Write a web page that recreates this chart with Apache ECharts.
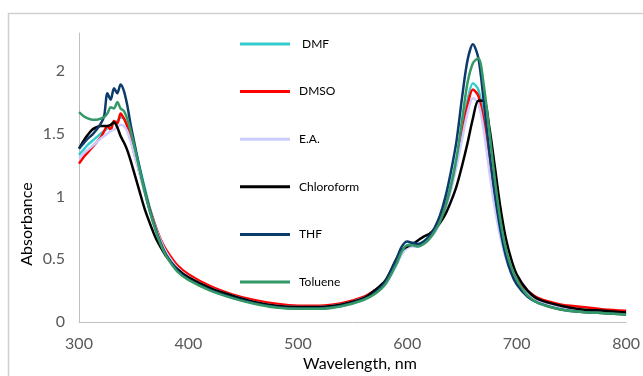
<!DOCTYPE html>
<html>
<head>
<meta charset="utf-8">
<script src="https://cdn.jsdelivr.net/npm/echarts@6/dist/echarts.min.js"></script>
<style>
html,body{margin:0;padding:0;background:#fff;}
#c{width:643px;height:376px;}
</style>
</head>
<body>
<div id="c"></div>
<script>
const wavelengths = [300,304,308,312,316,320,323,326,329,332,335,338,341,344,347,350,355,360,365,370,375,380,390,400,420,440,460,480,500,520,540,560,570,580,590,595,600,605,610,615,620,625,630,635,640,645,650,655,660,665,670,675,680,685,690,695,700,710,720,740,760,780,800];

const seriesNames = ['DMF','DMSO','E.A.','Chloroform','THF','Toluene'];
const legendLabels = [' DMF','DMSO','E.A.','Chloroform','THF','Toluene'];
const seriesColors = ['#33CCCC','#FF0000','#CCCCFF','#000000','#0B3A6B','#339966'];

const dmf = [1.33,1.37,1.41,1.44,1.47,1.50,1.52,1.54,1.56,1.58,1.60,1.63,1.62,1.57,1.51,1.42,
  1.25,1.07,0.90,0.76,0.64,0.55,0.43,0.36,0.27,0.21,0.16,0.13,0.12,0.12,0.14,0.19,0.24,0.31,0.47,
  0.56,0.61,0.62,0.62,0.64,0.68,0.74,0.82,0.94,1.10,1.30,1.52,1.76,1.90,1.85,1.62,1.27,0.96,0.72,0.53,0.41,0.33,
  0.23,0.17,0.12,0.10,0.08,0.07];
const dmso = [1.26,1.31,1.35,1.39,1.43,1.47,1.52,1.56,1.53,1.60,1.58,1.66,1.62,1.56,1.47,1.36,
  1.20,1.04,0.89,0.76,0.65,0.57,0.45,0.38,0.285,0.22,0.175,0.145,0.13,0.13,0.15,0.20,0.25,0.31,0.46,
  0.55,0.60,0.61,0.61,0.63,0.67,0.72,0.80,0.92,1.07,1.27,1.49,1.72,1.85,1.80,1.58,1.25,0.95,0.72,0.54,0.42,0.34,
  0.25,0.19,0.14,0.12,0.10,0.09];
const ea = [1.30,1.34,1.37,1.40,1.43,1.46,1.48,1.50,1.52,1.53,1.55,1.57,1.56,1.52,1.44,1.35,
  1.19,1.03,0.88,0.75,0.64,0.55,0.43,0.36,0.27,0.21,0.16,0.13,0.12,0.12,0.14,0.19,0.24,0.30,0.45,
  0.54,0.59,0.60,0.60,0.62,0.66,0.71,0.79,0.90,1.05,1.24,1.45,1.66,1.78,1.74,1.52,1.20,0.91,0.68,0.51,0.39,0.31,
  0.22,0.17,0.12,0.10,0.08,0.07];
const chloroform = [1.38,1.44,1.49,1.53,1.55,1.56,1.56,1.56,1.57,1.59,1.55,1.48,1.43,1.37,1.29,1.20,
  1.05,0.90,0.78,0.67,0.59,0.52,0.42,0.355,0.27,0.21,0.16,0.13,0.12,0.12,0.14,0.19,0.25,0.33,0.50,
  0.57,0.60,0.62,0.65,0.68,0.70,0.74,0.79,0.86,0.96,1.08,1.24,1.42,1.62,1.76,1.76,1.55,1.24,0.92,0.67,0.50,0.38,
  0.25,0.18,0.13,0.10,0.09,0.075];
const thf = [1.38,1.42,1.46,1.49,1.53,1.58,1.64,1.82,1.77,1.86,1.82,1.89,1.84,1.73,1.58,1.45,
  1.24,1.05,0.88,0.74,0.62,0.53,0.41,0.34,0.255,0.195,0.15,0.12,0.11,0.11,0.13,0.18,0.23,0.32,0.50,
  0.60,0.64,0.63,0.62,0.64,0.68,0.75,0.85,1.00,1.20,1.44,1.78,2.08,2.21,2.10,1.75,1.36,1.02,0.74,0.53,0.39,0.30,
  0.20,0.15,0.10,0.08,0.07,0.06];
const toluene = [1.67,1.64,1.62,1.61,1.61,1.62,1.63,1.66,1.71,1.70,1.75,1.70,1.68,1.62,1.53,1.42,
  1.23,1.04,0.87,0.73,0.61,0.52,0.40,0.335,0.25,0.19,0.145,0.115,0.105,0.105,0.125,0.175,0.22,0.30,0.46,
  0.56,0.61,0.61,0.60,0.62,0.66,0.72,0.80,0.92,1.08,1.30,1.60,1.90,2.06,2.10,1.88,1.52,1.14,0.82,0.59,0.44,0.34,
  0.21,0.15,0.10,0.08,0.07,0.06];

const xTicks = [300,400,500,600,700,800];
const yTicks = [0,0.5,1,1.5,2];

const allValues = [dmf,dmso,ea,chloroform,thf,toluene];

const chart = echarts.init(document.getElementById('c'), null, {renderer:'canvas'});
const FONT = 'Lato, "Open Sans", sans-serif';

const series = seriesNames.map((n,k)=>({
  name: n,
  type: 'line',
  data: wavelengths.map((w,i)=>[w, allValues[k][i]]),
  showSymbol: false,
  symbol: 'none',
  smooth: 0.3,
  lineStyle: {width: 2.5, color: seriesColors[k]},
  itemStyle: {color: seriesColors[k]},
  animation: false
}));

chart.setOption({
  backgroundColor: '#ffffff',
  animation: false,
  grid: {left: 79, right: 16, top: 33, bottom: 54, containLabel: false},
  xAxis: {
    type: 'value', min: 300, max: 800, interval: 100,
    splitLine: {show: false},
    axisTick: {show: false},
    axisLine: {show: true, onZero: false, lineStyle: {color: '#bfbfbf', width: 1}},
    axisLabel: {color: '#595959', fontSize: 16, fontFamily: FONT, margin: 14,
      formatter: v => xTicks.includes(v) ? String(v) : ''}
  },
  yAxis: {
    type: 'value', min: 0, max: 2.3, interval: 0.5,
    splitLine: {show: false},
    axisTick: {show: false},
    axisLine: {show: true, lineStyle: {color: '#bfbfbf', width: 1}},
    axisLabel: {color: '#595959', fontSize: 16, fontFamily: FONT, margin: 14,
      showMaxLabel: false,
      formatter: v => yTicks.some(t => Math.abs(t - v) < 1e-6) ? String(v) : ''}
  },
  legend: {
    orient: 'vertical', left: 240, top: 37, padding: 0,
    itemWidth: 50, itemHeight: 3, itemGap: 33.6, icon: 'rect',
    data: seriesNames,
    formatter: name => legendLabels[seriesNames.indexOf(name)],
    textStyle: {color: '#000', fontSize: 12, fontFamily: FONT, lineHeight: 14, padding: [0,0,0,4]},
    selectedMode: false
  },
  graphic: [
    {type: 'rect', silent: true, z: -1,
      shape: {x: 8.5, y: 13.5, width: 1000, height: 1000},
      style: {fill: null, stroke: '#d0d0d0', lineWidth: 1.5}},
    {type: 'text', left: 303, top: 356,
      style: {text: 'Wavelength, nm', font: '16px ' + FONT, fill: '#000'}},
    {type: 'text', x: 27, y: 224, rotation: Math.PI/2,
      style: {text: 'Absorbance', font: '16px ' + FONT, fill: '#000', align: 'center', verticalAlign: 'middle'}}
  ],
  series: series
});
</script>
</body>
</html>
